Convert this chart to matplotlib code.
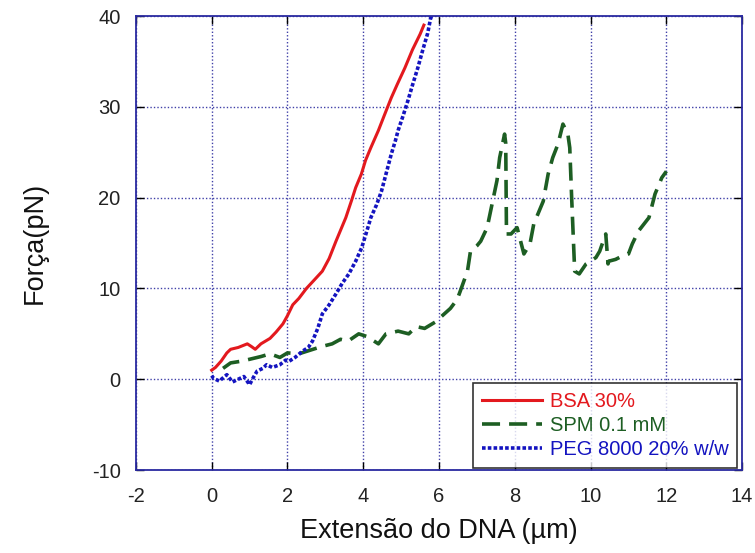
import matplotlib
matplotlib.use("Agg")
import matplotlib.pyplot as plt

bsa_x = [0.0, 0.1, 0.25, 0.4, 0.5, 0.7, 0.94, 1.05, 1.15, 1.3, 1.54, 1.7, 1.88, 2.0, 2.14, 2.3, 2.5, 2.7, 2.92, 3.1, 3.28, 3.4, 3.54, 3.7, 3.8, 3.95, 4.06, 4.2, 4.4, 4.55, 4.74, 4.9, 5.1, 5.3, 5.5, 5.6]
bsa_y = [1.0, 1.3, 2.0, 2.9, 3.3, 3.5, 3.9, 3.6, 3.3, 3.9, 4.5, 5.2, 6.1, 7.0, 8.2, 8.9, 10.0, 10.9, 11.9, 13.3, 15.2, 16.4, 17.8, 19.8, 21.1, 22.6, 24.1, 25.5, 27.4, 29.0, 31.0, 32.5, 34.3, 36.3, 38.0, 39.0]

spm_x = [0.3, 0.5, 0.8, 1.1, 1.3, 1.54, 1.8, 2.0, 2.3, 2.6, 2.9, 3.18, 3.4, 3.6, 3.88, 4.1, 4.4, 4.6, 4.92, 5.2, 5.4, 5.62, 5.9, 6.14, 6.3, 6.48, 6.56, 6.75, 6.83, 7.0, 7.1, 7.27, 7.4, 7.53, 7.6, 7.73, 7.76, 7.78, 7.9, 8.06, 8.24, 8.4, 8.5, 8.75, 8.88, 9.0, 9.14, 9.27, 9.4, 9.45, 9.5, 9.58, 9.7, 9.88, 10.14, 10.24, 10.4, 10.46, 10.48, 10.66, 10.85, 11.0, 11.1, 11.26, 11.54, 11.7, 11.88, 12.0]
spm_y = [1.2, 1.8, 2.0, 2.3, 2.5, 2.8, 2.4, 2.9, 2.8, 3.2, 3.6, 3.9, 4.4, 4.2, 5.0, 4.7, 3.9, 5.0, 5.3, 5.0, 5.8, 5.6, 6.3, 7.2, 7.8, 8.8, 9.7, 11.9, 14.1, 14.7, 15.2, 16.7, 19.3, 21.9, 24.4, 27.0, 26.0, 16.0, 16.0, 16.7, 13.8, 14.9, 17.1, 19.6, 22.6, 24.4, 25.9, 28.1, 27.0, 25.5, 20.0, 11.9, 11.6, 12.7, 13.4, 14.1, 16.0, 12.7, 13.0, 13.2, 13.6, 13.8, 14.9, 16.3, 17.8, 20.4, 22.2, 22.9]

peg_x = [0.0, 0.05, 0.2, 0.4, 0.55, 0.7, 0.85, 1.0, 1.1, 1.2, 1.35, 1.45, 1.6, 1.8, 1.95, 2.05, 2.2, 2.4, 2.55, 2.66, 2.8, 2.92, 3.1, 3.28, 3.45, 3.62, 3.8, 3.96, 4.1, 4.2, 4.35, 4.48, 4.6, 4.74, 4.85, 4.92, 5.05, 5.18, 5.3, 5.44, 5.58, 5.7, 5.78, 5.82]
peg_y = [0.4, 0.1, -0.2, 0.5, -0.3, 0.0, 0.3, -0.6, 0.2, 0.9, 1.2, 1.6, 1.3, 1.6, 2.1, 2.0, 2.4, 3.1, 3.5, 4.2, 5.6, 7.2, 8.2, 9.4, 10.6, 11.6, 13.0, 14.5, 16.4, 17.8, 19.2, 20.7, 22.6, 24.8, 26.3, 27.4, 29.0, 30.7, 32.4, 34.3, 36.4, 38.1, 39.8, 40.0]

labels = ["BSA 30%", "SPM 0.1 mM", "PEG 8000 20% w/w"]
colors = ["#e3191e", "#1d5e23", "#1414c0"]

plt.rcParams['font.family'] = ['Liberation Sans', 'DejaVu Sans']
plt.rcParams['axes.unicode_minus'] = False

fig = plt.figure(figsize=(7.55, 5.53), dpi=100)
ax = fig.add_axes([0.180, 0.150, 0.803, 0.821])

ax.plot(bsa_x, bsa_y, color=colors[0], lw=2.2, ls='-', label=labels[0])
ax.plot(spm_x, spm_y, color=colors[1], lw=2.6, ls=(0, (5, 2.5)), label=labels[1])
ax.plot(peg_x, peg_y, color=colors[2], lw=2.6, ls=(0, (1, 0.6)), label=labels[2])

ax.set_xlim(-2, 14)
ax.set_ylim(-10, 40)
ax.set_xticks(range(-2, 15, 2))
ax.set_yticks(range(-10, 41, 10))
ax.grid(True, color='#4040a8', ls=(0, (1, 1.5)), lw=1.0)
for s in ax.spines.values():
    s.set_color('#2a2aa0')
    s.set_linewidth(1.3)
ax.tick_params(direction='in', length=6, width=1, color='black', labelsize=14.5, top=True, right=True)
ax.tick_params(axis='x', pad=12)
ax.tick_params(axis='y', pad=11)
for t in ax.get_xticklabels() + ax.get_yticklabels():
    t.set_color('#222222')

ax.set_xlabel("Extensão do DNA (\u00b5m)", fontsize=19.5, color='#111111', labelpad=9)
ax.set_ylabel("Força(pN)", fontsize=19.5, color='#111111', labelpad=32)

leg = ax.legend(loc='lower right', bbox_to_anchor=(0.992, 0.004), fontsize=14.5, frameon=True,
                fancybox=False, edgecolor='black', handlelength=3.0, handletextpad=0.35,
                borderpad=0.45, labelspacing=0.25, borderaxespad=0.0)
leg.get_frame().set_linewidth(1.2)
for txt, c in zip(leg.get_texts(), colors):
    txt.set_color(c)

fig.savefig("out.png", dpi=100)
